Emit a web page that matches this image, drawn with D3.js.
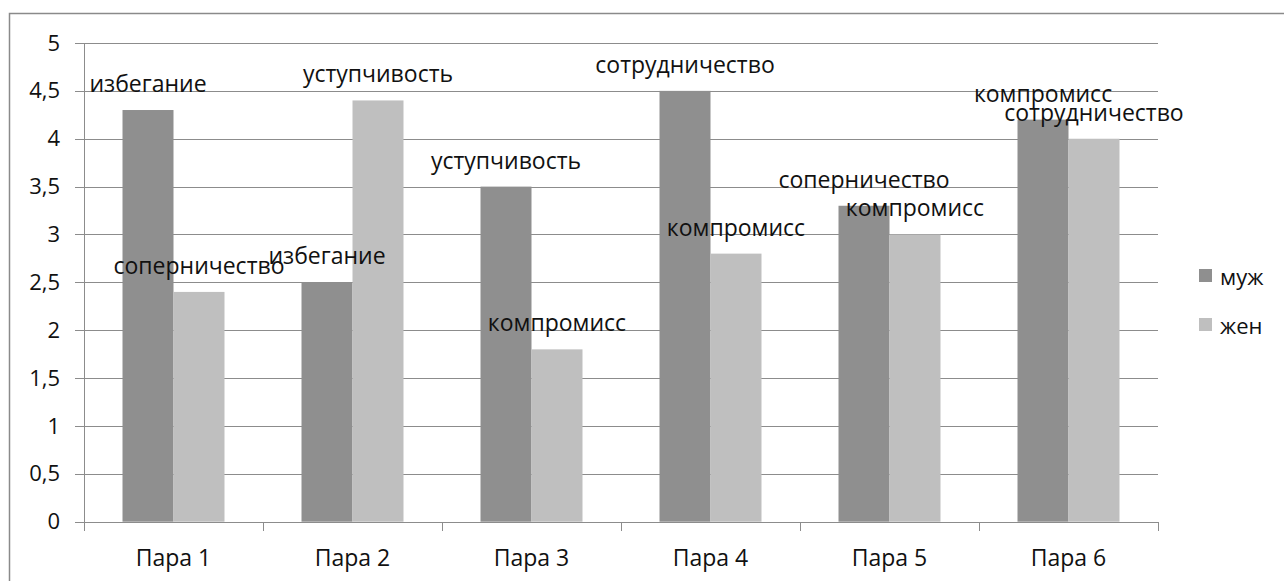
<!DOCTYPE html>
<html>
<head>
<meta charset="utf-8">
<script src="https://cdn.jsdelivr.net/npm/d3@7/dist/d3.min.js"></script>
<style>
  html, body { margin: 0; padding: 0; background: #fff; }
  svg { display: block; }
  text { font-family: "Open Sans", "Noto Sans", sans-serif; fill: #111; }
</style>
</head>
<body>
<svg id="chart" width="1284" height="581"></svg>
<script>
// Пары и значения по полу
const categories = ["Пара 1", "Пара 2", "Пара 3", "Пара 4", "Пара 5", "Пара 6"];
const seriesNames = ["муж", "жен"];
const maleValues = [4.3, 2.5, 3.5, 4.5, 3.3, 4.2];
const femaleValues = [2.4, 4.4, 1.8, 2.8, 3.0, 4.0];
const maleLabels = ["избегание", "избегание", "уступчивость", "сотрудничество", "соперничество", "компромисс"];
const femaleLabels = ["соперничество", "уступчивость", "компромисс", "компромисс", "компромисс", "сотрудничество"];
const yTicks = [0, 0.5, 1, 1.5, 2, 2.5, 3, 3.5, 4, 4.5, 5];

const colors = { "муж": "#8f8f8f", "жен": "#bfbfbf" };
const gridColor = "#8c8c8c";

const svg = d3.select("#chart");

// рамка области диаграммы
svg.append("rect")
  .attr("x", 9.5).attr("y", 13.5)
  .attr("width", 1300).attr("height", 600)
  .attr("fill", "none").attr("stroke", "#8a8a8a").attr("stroke-width", 1.5);

const plot = { left: 84, right: 1158, top: 43, bottom: 521.7 };

const x = d3.scaleBand().domain(categories).range([plot.left, plot.right]).paddingInner(0).paddingOuter(0);
const y = d3.scaleLinear().domain([0, 5]).range([plot.bottom, plot.top]);
// два столбца в группе, боковой зазор 150% ширины столбца
const xs = d3.scaleBand().domain(seriesNames).range([0, x.bandwidth()]).paddingInner(0).paddingOuter(0.755);

// горизонтальные линии сетки
svg.append("g")
  .selectAll("line")
  .data(yTicks)
  .join("line")
  .attr("x1", plot.left - 9).attr("x2", plot.right)
  .attr("y1", d => Math.round(y(d)) + 0.5).attr("y2", d => Math.round(y(d)) + 0.5)
  .attr("stroke", gridColor).attr("stroke-width", 1);

// ось Y
const yAxis = svg.append("g")
  .attr("transform", `translate(${plot.left},0)`)
  .call(d3.axisLeft(y).tickValues(yTicks).tickSize(0).tickPadding(24)
    .tickFormat(d => String(d).replace(".", ",")));
yAxis.select(".domain").remove();
yAxis.selectAll("text").style("font-size", "22px").style("font-family", "'Open Sans', sans-serif").attr("fill", "#111");
svg.append("line")
  .attr("x1", plot.left + 0.5).attr("x2", plot.left + 0.5)
  .attr("y1", plot.top).attr("y2", plot.bottom + 9)
  .attr("stroke", gridColor);

// ось X
const xAxis = svg.append("g")
  .attr("transform", `translate(0,${Math.round(plot.bottom) + 0.5})`)
  .call(d3.axisBottom(x).tickSize(0).tickPadding(27));
xAxis.select(".domain").remove();
xAxis.selectAll("text").style("font-size", "23px").style("font-family", "'Open Sans', sans-serif").attr("fill", "#111");
svg.append("g")
  .selectAll("line")
  .data(d3.range(categories.length + 1))
  .join("line")
  .attr("x1", i => plot.left + i * x.bandwidth() + 0.5)
  .attr("x2", i => plot.left + i * x.bandwidth() + 0.5)
  .attr("y1", Math.round(plot.bottom)).attr("y2", Math.round(plot.bottom) + 9)
  .attr("stroke", gridColor);

// столбцы
const rows = categories.map((c, i) => ({
  cat: c,
  items: [
    { s: "муж", v: maleValues[i], label: maleLabels[i] },
    { s: "жен", v: femaleValues[i], label: femaleLabels[i] }
  ]
}));

const groups = svg.append("g").selectAll("g")
  .data(rows).join("g")
  .attr("transform", d => `translate(${x(d.cat)},0)`);

groups.selectAll("rect")
  .data(d => d.items).join("rect")
  .attr("x", d => xs(d.s))
  .attr("width", xs.bandwidth())
  .attr("y", d => y(d.v))
  .attr("height", d => y(0) - y(d.v))
  .attr("fill", d => colors[d.s]);

// подписи стратегий над столбцами
groups.selectAll("text.lbl")
  .data(d => d.items).join("text")
  .attr("class", "lbl")
  .attr("x", d => xs(d.s) + xs.bandwidth() / 2)
  .attr("y", d => y(d.v) - 18)
  .attr("text-anchor", "middle")
  .style("font-size", "23px")
  .text(d => d.label);

// легенда
const legend = svg.append("g").selectAll("g")
  .data(seriesNames).join("g")
  .attr("transform", (d, i) => `translate(1199,${269 + i * 49})`);
legend.append("rect").attr("width", 13).attr("height", 13).attr("fill", d => colors[d]);
legend.append("text").attr("x", 21).attr("y", 7).attr("dominant-baseline", "central")
  .style("font-size", "22px").text(d => d);
</script>
</body>
</html>
